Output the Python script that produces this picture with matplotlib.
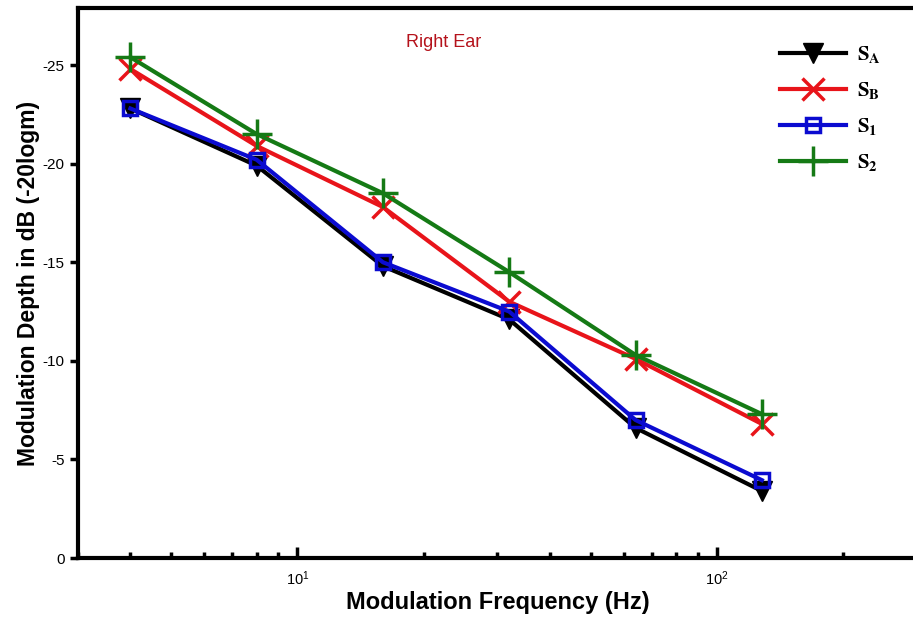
import numpy as np
import matplotlib
matplotlib.use("Agg")
import matplotlib.pyplot as plt

plt.rcParams['font.family'] = ['Liberation Sans', 'DejaVu Sans']
plt.rcParams['mathtext.fontset'] = 'stix'

freqs = [4, 8, 16, 32, 64, 128]
s_a = [-22.8, -19.9, -14.8, -12.1, -6.6, -3.4]
s_b = [-24.8, -20.9, -17.8, -13.0, -10.1, -6.8]
s_1 = [-22.8, -20.2, -15.0, -12.5, -7.0, -3.95]
s_2 = [-25.4, -21.5, -18.5, -14.5, -10.3, -7.3]
labels = [r'$\mathbf{S_A}$', r'$\mathbf{S_B}$', r'$\mathbf{S_1}$', r'$\mathbf{S_2}$']
yticks = [0, -5, -10, -15, -20, -25]

fig = plt.figure(figsize=(9.13, 6.23), dpi=100)
ax = fig.add_axes([0.0854, 0.1043, 0.919, 0.883])

l1, = ax.plot(freqs, s_a, color='black', lw=3, marker='v', ms=15)
l2, = ax.plot(freqs, s_b, color='#e8141a', lw=3, marker='x', ms=16, mew=2.5)
l3, = ax.plot(freqs, s_1, color='#0b0bd0', lw=3, marker='s', ms=10,
              mfc='none', mew=2.5)
l4, = ax.plot(freqs, s_2, color='#157a15', lw=3, marker='+', ms=22, mew=2.5)

ax.set_xscale('log')
ax.set_xlim(3, 300)
ax.set_ylim(0, -27.9)
ax.set_yticks(yticks)
ax.set_yticklabels([str(v) for v in yticks])

for sp in ax.spines.values():
    sp.set_linewidth(3)

ax.tick_params(axis='x', which='major', direction='in', length=8, width=2.5,
               labelsize=10.5, pad=8)
ax.tick_params(axis='x', which='minor', direction='in', length=4, width=2.5)
ax.tick_params(axis='y', which='major', direction='out', length=6, width=2.5,
               labelsize=11)

ax.set_xlabel('Modulation Frequency (Hz)', fontsize=17, fontweight='bold',
              labelpad=2)
ax.set_ylabel('Modulation Depth in dB (-20logm)', fontsize=16.5,
              fontweight='bold', labelpad=2)

ax.text(0.436, 0.938, 'Right Ear', transform=ax.transAxes, color='#b5121b',
        fontsize=13, ha='center', va='center')

ax.legend([l1, l2, l3, l4], labels, loc='upper left',
          bbox_to_anchor=(0.814, 0.968), frameon=False, handlelength=3.2,
          fontsize=15, labelspacing=0.72, handletextpad=0.5)

fig.savefig('out.png', dpi=100)
